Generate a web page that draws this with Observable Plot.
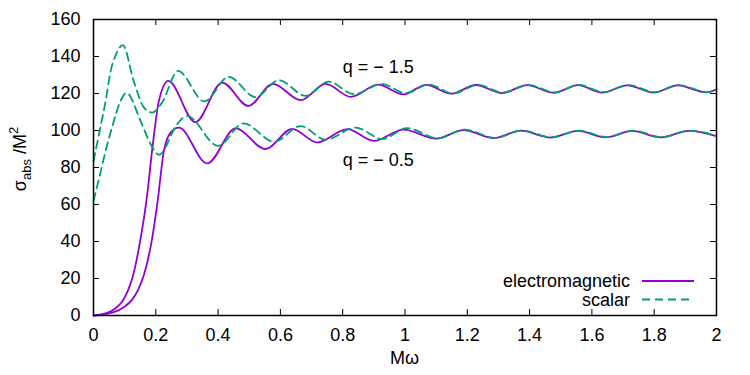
<!DOCTYPE html>
<html>
<head>
<meta charset="utf-8">
<script src="https://cdn.jsdelivr.net/npm/d3@7"></script>
<script src="https://cdn.jsdelivr.net/npm/@observablehq/plot@0.6"></script>
<style>
  body { margin: 0; background: #fff; }
  #chart { width: 750px; height: 375px; }
</style>
</head>
<body>
<div id="chart"></div>
<script>
// Absorption cross section σ_abs/M² versus Mω for two charge values q.

// electromagnetic, q = −1.5
const emUpperX = [0, 0.044, 0.070, 0.092, 0.108, 0.124, 0.151, 0.172, 0.188, 0.210, 0.240, 0.327, 0.413, 0.497, 0.576, 0.665, 0.745, 0.826, 0.914, 0.994, 1.068, 1.148, 1.228, 1.310, 1.392, 1.478, 1.555, 1.633, 1.713, 1.799, 1.874, 1.968, 2.0];
const emUpperY = [0, 1.4, 3.8, 7.6, 12.5, 19.8, 41.4, 64.8, 89, 116, 126.8, 104.5, 125.9, 113.3, 125.2, 116.4, 125.2, 118.2, 124.8, 119.5, 124.7, 119.9, 124.6, 120.2, 124.5, 120.4, 124.5, 120.5, 124.4, 120.5, 124.4, 120.6, 122.2];

// scalar, q = −1.5
const scUpperX = [0, 0.022, 0.039, 0.055, 0.072, 0.094, 0.129, 0.162, 0.188, 0.220, 0.271, 0.356, 0.434, 0.520, 0.595, 0.681, 0.755, 0.836, 0.925, 1.002, 1.076, 1.154, 1.234, 1.315, 1.396, 1.481, 1.559, 1.637, 1.717, 1.802, 1.878, 1.971, 2.0];
const scUpperY = [83.5, 101.6, 116, 132, 141, 146.2, 126.8, 112.4, 109.7, 115.1, 132.2, 115.7, 129.0, 118.0, 127.2, 118.7, 126.4, 119.6, 125.2, 120.2, 124.9, 120.0, 124.7, 120.4, 124.6, 120.6, 124.6, 120.7, 124.5, 120.7, 124.5, 120.7, 122.2];

// electromagnetic, q = −0.5
const emLowerX = [0, 0.065, 0.097, 0.124, 0.142, 0.162, 0.188, 0.206, 0.226, 0.248, 0.274, 0.365, 0.456, 0.552, 0.638, 0.718, 0.815, 0.900, 0.995, 1.100, 1.188, 1.285, 1.372, 1.467, 1.555, 1.644, 1.729, 1.820, 1.911, 2.0];
const emLowerY = [0, 1.8, 4.5, 8.6, 13.5, 22, 41.4, 62, 89, 99, 101.6, 82.2, 101.1, 90.0, 100.9, 93.5, 100.7, 94.4, 100.5, 95.6, 100.2, 95.9, 99.9, 96.2, 99.8, 96.3, 99.8, 96.3, 99.8, 96.9];

// scalar, q = −0.5
const scLowerX = [0, 0.020, 0.039, 0.060, 0.087, 0.106, 0.151, 0.183, 0.210, 0.269, 0.300, 0.400, 0.482, 0.580, 0.665, 0.745, 0.841, 0.927, 1.007, 1.105, 1.192, 1.289, 1.376, 1.470, 1.559, 1.648, 1.733, 1.824, 1.915, 2.0];
const scLowerY = [62, 75.5, 89, 102, 116, 120.3, 105.2, 92.7, 86.9, 103.5, 107.9, 91.7, 103.8, 93.9, 102.4, 95.0, 101.6, 95.4, 101.3, 95.8, 100.5, 96.0, 100.0, 96.3, 99.9, 96.4, 99.9, 96.4, 99.9, 97.0];

// axis ticks
const xTicks = [0, 0.2, 0.4, 0.6, 0.8, 1, 1.2, 1.4, 1.6, 1.8, 2];
const yTicks = [0, 20, 40, 60, 80, 100, 120, 140, 160];

// curve annotations
const noteText = ["q = \u2212 1.5", "q = \u2212 0.5"];
const noteX = [0.8, 0.8];
const noteY = [134, 84];

// legend entries
const legendNames = ["electromagnetic", "scalar"];

const purple = "#9400d3";
const green = "#009e73";
const font = "'Liberation Sans', Arial, Helvetica, sans-serif";

const W = 750, H = 375;
const mL = 93, mR = 34, mT = 19, mB = 60;
const innerW = W - mL - mR, innerH = H - mT - mB;
const tickLen = 6;

const toRows = (xs, ys, kind, q) => xs.map((x, i) => ({x, y: ys[i], kind, q}));
const emRows = [...toRows(emUpperX, emUpperY, "electromagnetic", "-1.5"), ...toRows(emLowerX, emLowerY, "electromagnetic", "-0.5")];
const scRows = [...toRows(scUpperX, scUpperY, "scalar", "-1.5"), ...toRows(scLowerX, scLowerY, "scalar", "-0.5")];
const notes = noteText.map((t, i) => ({text: t, x: noteX[i], y: noteY[i]}));

const svg = Plot.plot({
  width: W,
  height: H,
  marginLeft: mL,
  marginRight: mR,
  marginTop: mT,
  marginBottom: mB,
  style: {fontFamily: font, fontSize: "18px", color: "#000", background: "#fff", overflow: "visible"},
  x: {domain: [0, 2]},
  y: {domain: [0, 160]},
  marks: [
    Plot.axisX(xTicks, {tickSize: 0, tickPadding: 13, label: null, tickFormat: d => String(d), fontSize: 18}),
    Plot.axisY(yTicks, {tickSize: 0, tickPadding: 13, label: null, fontSize: 18}),
    // inward ticks on all four sides
    Plot.tickX(xTicks, {x: d => d, insetTop: innerH - tickLen, stroke: "#000", strokeWidth: 1}),
    Plot.tickX(xTicks, {x: d => d, insetBottom: innerH - tickLen, stroke: "#000", strokeWidth: 1}),
    Plot.tickY(yTicks, {y: d => d, insetRight: innerW - tickLen, stroke: "#000", strokeWidth: 1}),
    Plot.tickY(yTicks, {y: d => d, insetLeft: innerW - tickLen, stroke: "#000", strokeWidth: 1}),
    Plot.line(emRows, {x: "x", y: "y", z: "q", stroke: purple, strokeWidth: 1.8, curve: "monotone-x"}),
    Plot.line(scRows, {x: "x", y: "y", z: "q", stroke: green, strokeWidth: 1.8, strokeDasharray: "8,5", curve: "monotone-x"}),
    Plot.text(notes, {x: "x", y: "y", text: "text", textAnchor: "start", fontSize: 18, fill: "#000"}),
    Plot.frame({stroke: "#000", strokeWidth: 1.5})
  ]
});

const root = d3.select(svg);

// x axis title
root.append("text")
  .attr("x", mL + innerW / 2)
  .attr("y", 364)
  .attr("text-anchor", "middle")
  .attr("font-family", font)
  .attr("font-size", 18)
  .attr("fill", "#000")
  .text("M\u03c9");

// y axis title with subscript and superscript
const yt = root.append("text")
  .attr("transform", "translate(26,159) rotate(-90)")
  .attr("text-anchor", "middle")
  .attr("font-family", font)
  .attr("font-size", 18)
  .attr("fill", "#000");
yt.append("tspan").text("\u03c3");
yt.append("tspan").attr("dy", 5).attr("font-size", 13).text("abs");
yt.append("tspan").attr("dy", -5).text(" /M");
yt.append("tspan").attr("dy", -8).attr("font-size", 13).text("2");

// legend
const legend = root.append("g").attr("font-family", font).attr("font-size", 18);
const legendStyles = [{stroke: purple, dash: null}, {stroke: green, dash: "8,5"}];
legendNames.forEach((name, i) => {
  const cy = 281 + i * 18.5;
  legend.append("text")
    .attr("x", 630)
    .attr("y", cy + 6)
    .attr("text-anchor", "end")
    .attr("fill", "#000")
    .text(name);
  legend.append("line")
    .attr("x1", 642).attr("x2", 694)
    .attr("y1", cy).attr("y2", cy)
    .attr("stroke", legendStyles[i].stroke)
    .attr("stroke-width", 1.8)
    .attr("stroke-dasharray", legendStyles[i].dash);
});

document.getElementById("chart").appendChild(svg);
</script>
</body>
</html>
